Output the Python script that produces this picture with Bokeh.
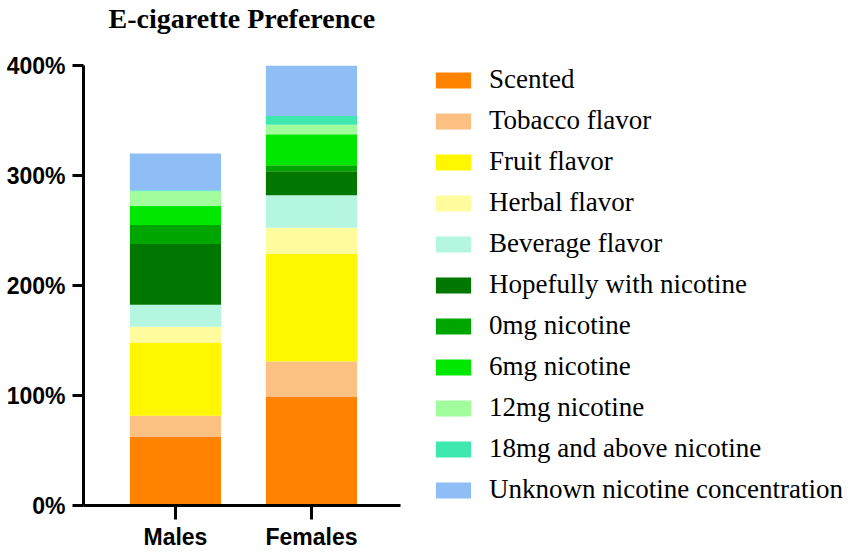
from bokeh.plotting import figure
from bokeh.models import ColumnDataSource, Range1d, Legend, LegendItem, FixedTicker
from bokeh.embed import file_html
from bokeh.resources import INLINE

groups = ["Males", "Females"]
categories = ["Scented", "Tobacco flavor", "Fruit flavor", "Herbal flavor", "Beverage flavor",
              "Hopefully with nicotine", "0mg nicotine", "6mg nicotine", "12mg nicotine",
              "18mg and above nicotine", "Unknown nicotine concentration"]
males = [62.3, 19.3, 66.5, 14.3, 20.2, 55.2, 17.1, 17.3, 13.5, 0.8, 33.4]
females = [99.2, 31.7, 97.7, 23.9, 29.6, 21.8, 5.4, 28.1, 8.8, 7.8, 46.0]
colors = ["#FF8201", "#FCC083", "#FFF700", "#FFFC9E", "#B4F6DF", "#007800",
          "#00A600", "#00E800", "#A2FE9D", "#3FE8AF", "#8FBEF6"]
y_ticks = [0, 100, 200, 300, 400]
y_tick_labels = ["0%", "100%", "200%", "300%", "400%"]

x_pos = list(range(len(groups)))
keys = ["c%d" % i for i in range(len(categories))]
data = {"x": x_pos}
for k, m, f in zip(keys, males, females):
    data[k] = [m, f]
source = ColumnDataSource(data)

W, H = 851, 552
left_border = 83
x_start, x_axis_end = -0.676, 1.654
p = figure(width=W, height=H, output_backend="svg", toolbar_location=None,
           x_range=Range1d(x_start, x_start + (W - left_border) / 136.0),
           y_range=Range1d(0, 400),
           min_border_left=left_border, min_border_right=0, min_border_top=65, min_border_bottom=0)

renderers = p.vbar_stack(keys, x="x", width=0.67, color=colors, line_color=None, source=source)

p.title.text = "E-cigarette Preference"
p.title.text_font = "Liberation Serif"
p.title.text_font_style = "bold"
p.title.text_font_size = "28px"
p.title.text_color = "black"
p.title.offset = 25
try:
    p.title.padding = dict(top=0, right=0, bottom=32, left=0)
    p.title.standoff = 0
except Exception:
    p.title.standoff = 35

for ax in (p.xaxis[0], p.yaxis[0]):
    ax.axis_line_width = 3
    ax.major_tick_line_width = 3
    ax.major_tick_in = 0
    ax.minor_tick_line_color = None
    ax.major_label_text_font = "Liberation Sans"
    ax.major_label_text_font_style = "bold"
    ax.major_label_text_font_size = "23px"
    ax.major_label_text_color = "black"

p.yaxis[0].ticker = FixedTicker(ticks=y_ticks)
p.yaxis[0].major_label_overrides = {t: l for t, l in zip(y_ticks, y_tick_labels)}
p.yaxis[0].major_tick_out = 11
p.yaxis[0].major_label_standoff = 7

p.xaxis[0].ticker = FixedTicker(ticks=x_pos)
p.xaxis[0].major_label_overrides = {i: g for i, g in zip(x_pos, groups)}
p.xaxis[0].bounds = (x_start, x_axis_end)
p.xaxis[0].major_tick_out = 14
p.xaxis[0].major_label_standoff = 4

p.xgrid.grid_line_color = None
p.ygrid.grid_line_color = None
p.outline_line_color = None

items = [LegendItem(label=c, renderers=[r]) for c, r in zip(categories, renderers)]
legend = Legend(items=items, location=(348, 0), orientation="vertical")
legend.glyph_width = 44
legend.glyph_height = 20
legend.label_standoff = 14
legend.label_text_font = "Liberation Serif"
legend.label_text_font_size = "27px"
legend.label_text_color = "black"
legend.spacing = 10
legend.padding = 0
legend.margin = 0
legend.border_line_color = None
legend.background_fill_alpha = 0
p.add_layout(legend, "center")

open("out.html", "w").write(file_html(p, INLINE))
